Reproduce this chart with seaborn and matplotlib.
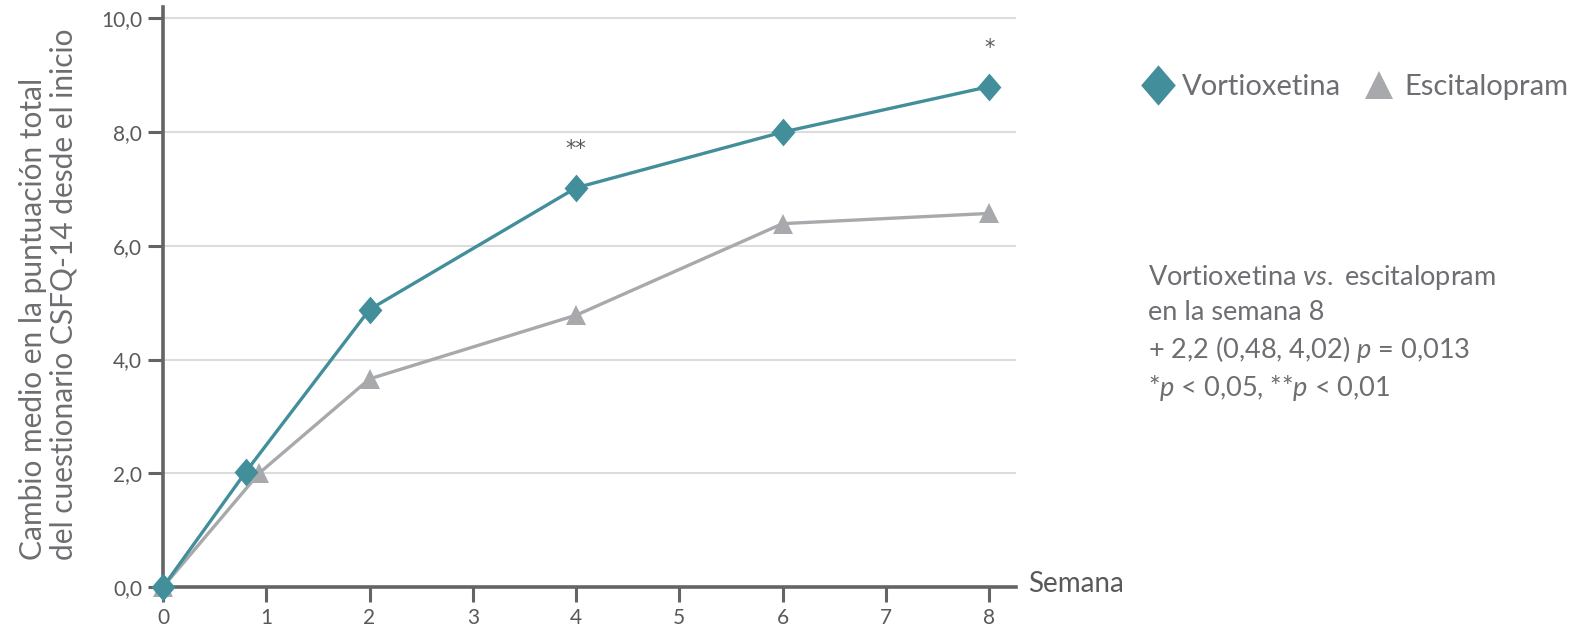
import numpy as np
import pandas as pd
import matplotlib
matplotlib.use("Agg")
import matplotlib.pyplot as plt
from matplotlib.lines import Line2D
from matplotlib.path import Path
import seaborn as sns

# Mean change in CSFQ-14 total score from baseline, by week
weeks_vortioxetina = [0, 0.8, 2, 4, 6, 8]
vortioxetina = [0.0, 2.02, 4.88, 7.02, 8.0, 8.8]
weeks_escitalopram = [0, 0.93, 2, 4, 6, 8]
escitalopram = [0.0, 2.0, 3.66, 4.78, 6.39, 6.57]

x_ticks = [0, 1, 2, 3, 4, 5, 6, 7, 8]
y_ticks = [0, 2, 4, 6, 8, 10]
y_tick_labels = ["0,0", "2,0", "4,0", "6,0", "8,0", "10,0"]

# significance marks above the vortioxetine series
sig_weeks = [4, 8]
sig_values = [7.02, 8.8]
sig_labels = ["**", "*"]

TEAL = "#428f9b"
GREY = "#a7a9ac"
TEXT = "#6d6e71"
DARK = "#58595b"
AXIS = "#636466"

sns.set_style("white")
plt.rcParams["font.family"] = ["Lato", "DejaVu Sans"]
plt.rcParams["mathtext.fontset"] = "custom"
plt.rcParams["mathtext.rm"] = "Lato"
plt.rcParams["mathtext.it"] = "Lato:italic"

fig = plt.figure(figsize=(15.81, 6.35), dpi=100)
W, H = 1581, 635
ax = fig.add_axes([163 / W, 1 - 587 / H, (1016 - 163) / W, (587 - 7) / H])

# slightly tall diamond marker
diamond = Path([(0, 1), (0.86, 0), (0, -1), (-0.86, 0), (0, 1)],
               [Path.MOVETO, Path.LINETO, Path.LINETO, Path.LINETO, Path.CLOSEPOLY])

df_v = pd.DataFrame({"semana": weeks_vortioxetina, "cambio": vortioxetina})
df_e = pd.DataFrame({"semana": weeks_escitalopram, "cambio": escitalopram})

sns.lineplot(data=df_e, x="semana", y="cambio", ax=ax, color=GREY, lw=2.4,
             marker="^", markersize=15, markeredgewidth=0, clip_on=False, zorder=3)
sns.lineplot(data=df_v, x="semana", y="cambio", ax=ax, color=TEAL, lw=2.4,
             marker=diamond, markersize=20, markeredgewidth=0, clip_on=False, zorder=4)

for wk, val, lab in zip(sig_weeks, sig_values, sig_labels):
    ax.annotate(lab, (wk, val), xytext=(0, 28), textcoords="offset points",
                ha="center", va="center", fontsize=15, color=DARK,
                family="DejaVu Sans")

ax.set_xlim(0, 8.26)
ax.set_ylim(0, 10.2)
ax.set_xticks(x_ticks)
ax.set_yticks(y_ticks)
ax.set_yticklabels(y_tick_labels)
ax.set_xlabel("")
ax.set_ylabel("")

ax.grid(axis="y", color="#dcdcdc", lw=1.5)
ax.grid(axis="x", visible=False)
ax.set_axisbelow(True)
for side in ["top", "right"]:
    ax.spines[side].set_visible(False)
for side in ["left", "bottom"]:
    ax.spines[side].set_color(AXIS)
    ax.spines[side].set_linewidth(2.6)
ax.tick_params(axis="both", direction="out", length=11, width=2.2, color=AXIS,
               labelsize=15, labelcolor=DARK, pad=4, left=True, bottom=True)

fig.text(1028 / W, 1 - 584 / H, "Semana", fontsize=20, color=DARK,
         ha="left", va="center")

fig.text(48 / W, 1 - 560 / H,
         "Cambio medio en la puntuación total\ndel cuestionario CSFQ-14 desde el inicio",
         rotation=90, fontsize=21.5, color=TEXT, ha="center", va="bottom",
         multialignment="left", linespacing=1.12)

handles = [
    Line2D([], [], ls="none", marker=diamond, markersize=29, color=TEAL, markeredgewidth=0),
    Line2D([], [], ls="none", marker="^", markersize=20, color=GREY, markeredgewidth=0),
]
fig.legend(handles, ["Vortioxetina", "Escitalopram"], loc="center left",
           bbox_to_anchor=(1143 / W, 1 - 87 / H), ncol=2, frameon=False,
           fontsize=21, labelcolor=TEXT, handlelength=1.0, handletextpad=0.35,
           columnspacing=0.8, borderaxespad=0, borderpad=0)

fig.text(1148 / W, 1 - 263 / H,
         "Vortioxetina $vs.$ escitalopram\nen la semana 8\n"
         "+ 2,2 (0,48, 4,02) $p$ = 0,013\n*$p$ < 0,05, **$p$ < 0,01",
         fontsize=19.5, color=TEXT, ha="left", va="top", linespacing=1.38)

fig.savefig("out.png", dpi=100)
